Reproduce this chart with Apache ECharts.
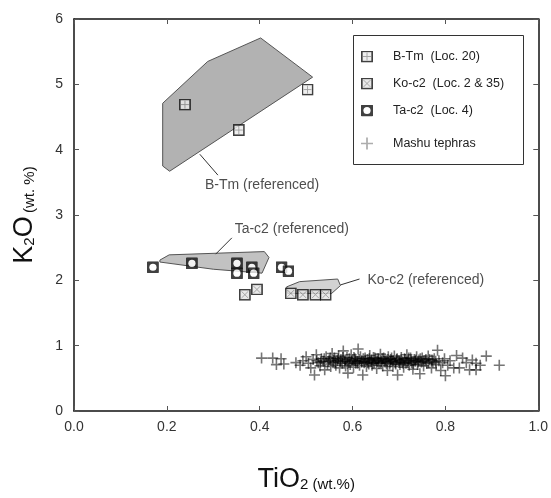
<!DOCTYPE html>
<html><head><meta charset="utf-8">
<script src="https://cdn.jsdelivr.net/npm/echarts@6/dist/echarts.min.js"></script>
<style>html,body{margin:0;padding:0;background:#fff}#c{width:551px;height:498px}</style>
</head><body><div id="c"></div>
<script>
// ---- data ----
var xTicks = [0, 0.2, 0.4, 0.6, 0.8, 1.0];
var yTicks = [0, 1, 2, 3, 4, 5, 6];
var bTm = [[0.239,4.69],[0.355,4.30],[0.503,4.92]];
var koC2 = [[0.368,1.78],[0.394,1.86],[0.467,1.80],[0.493,1.78],[0.520,1.78],[0.542,1.78]];
var taC2 = [[0.170,2.20],[0.254,2.26],[0.351,2.26],[0.351,2.11],[0.383,2.20],[0.387,2.11],[0.447,2.20],[0.462,2.14]];
var mashu = [
[0.404,0.81],[0.428,0.81],[0.446,0.80],[0.436,0.71],[0.452,0.72],[0.478,0.74],[0.487,0.70],[0.493,0.77],[0.50,0.83],[0.505,0.73],
[0.51,0.66],[0.515,0.79],[0.518,0.55],[0.522,0.86],[0.526,0.74],[0.53,0.69],[0.533,0.80],[0.537,0.76],[0.54,0.63],[0.543,0.83],
[0.546,0.72],[0.55,0.78],[0.553,0.68],[0.556,0.88],[0.558,0.74],[0.561,0.81],[0.564,0.70],[0.567,0.77],[0.57,0.84],[0.572,0.66],
[0.575,0.79],[0.578,0.73],[0.58,0.92],[0.583,0.76],[0.585,0.69],[0.588,0.82],[0.59,0.58],[0.592,0.75],[0.595,0.71],[0.597,0.86],
[0.60,0.78],[0.602,0.67],[0.605,0.80],[0.607,0.73],[0.61,0.76],[0.612,0.95],[0.615,0.70],[0.617,0.83],[0.62,0.77],[0.622,0.55],
[0.625,0.74],[0.627,0.81],[0.63,0.68],[0.632,0.79],[0.635,0.72],[0.637,0.85],[0.64,0.76],[0.642,0.70],[0.645,0.82],[0.647,0.74],
[0.65,0.78],[0.652,0.65],[0.655,0.80],[0.657,0.73],[0.66,0.87],[0.662,0.76],[0.665,0.69],[0.667,0.81],[0.67,0.75],[0.672,0.78],
[0.675,0.62],[0.677,0.83],[0.68,0.72],[0.682,0.79],[0.685,0.76],[0.687,0.68],[0.69,0.84],[0.692,0.74],[0.695,0.79],[0.697,0.55],
[0.70,0.77],[0.702,0.71],[0.705,0.82],[0.707,0.75],[0.71,0.67],[0.712,0.80],[0.715,0.73],[0.717,0.86],[0.72,0.77],[0.722,0.70],
[0.725,0.81],[0.727,0.74],[0.73,0.64],[0.733,0.79],[0.735,0.76],[0.738,0.83],[0.74,0.71],[0.743,0.78],[0.745,0.57],[0.748,0.75],
[0.75,0.81],[0.753,0.69],[0.756,0.77],[0.76,0.73],[0.763,0.84],[0.766,0.79],[0.77,0.66],[0.773,0.75],[0.776,0.80],[0.78,0.71],
[0.783,0.93],[0.786,0.77],[0.79,0.62],[0.794,0.74],[0.798,0.80],[0.80,0.54],[0.805,0.70],[0.81,0.77],[0.818,0.66],[0.824,0.85],
[0.83,0.66],[0.837,0.81],[0.845,0.74],[0.852,0.63],[0.858,0.78],[0.866,0.63],[0.866,0.73],[0.875,0.70],[0.888,0.84],[0.916,0.70],
[0.523,0.77],[0.531,0.75],[0.539,0.80],[0.548,0.76],[0.552,0.81],[0.559,0.78],[0.563,0.75],[0.569,0.80],[0.574,0.76],[0.579,0.82],
[0.584,0.78],[0.589,0.73],[0.593,0.80],[0.598,0.76],[0.603,0.82],[0.606,0.77],[0.611,0.73],[0.614,0.79],[0.619,0.75],[0.623,0.80],
[0.628,0.76],[0.633,0.74],[0.636,0.80],[0.641,0.78],[0.644,0.73],[0.648,0.81],[0.653,0.76],[0.656,0.78],[0.661,0.74],[0.664,0.80],
[0.668,0.77],[0.673,0.73],[0.676,0.79],[0.681,0.75],[0.684,0.81],[0.688,0.77],[0.693,0.72],[0.696,0.80],[0.701,0.75],[0.704,0.78],
[0.709,0.73],[0.713,0.79],[0.718,0.75],[0.721,0.81],[0.726,0.77],[0.731,0.72],[0.736,0.78],[0.741,0.75],[0.746,0.80],[0.752,0.76],
[0.758,0.79],[0.764,0.74],[0.771,0.78],[0.779,0.76]
];
var bTmField = [[0.191,4.71],[0.288,5.35],[0.402,5.71],[0.514,5.11],[0.206,3.67],[0.191,3.75]];
var taC2Field = [[0.185,2.31],[0.205,2.39],[0.41,2.44],[0.42,2.35],[0.405,2.11],[0.30,2.17],[0.185,2.28]];
var koC2Field = [[0.458,1.90],[0.486,1.98],[0.568,2.02],[0.574,1.92],[0.555,1.80],[0.46,1.80]];
var leaders = [
  [[0.271,3.93],[0.310,3.61]],
  [[0.305,2.40],[0.340,2.65]],
  [[0.574,1.93],[0.615,2.02]]
];
var fieldLabels = [[0.282,3.46,'B-Tm (referenced)'],[0.346,2.79,'Ta-c2 (referenced)'],[0.632,2.01,'Ko-c2 (referenced)']];
var names = ['B-Tm  (Loc. 20)','Ko-c2  (Loc. 2 & 35)','Ta-c2  (Loc. 4)','Mashu tephras'];

// ---- markers ----
function svgSym(s){return 'image://data:image/svg+xml;charset=utf-8,'+encodeURIComponent("<svg xmlns='http://www.w3.org/2000/svg' width='24' height='24' viewBox='0 0 12 12'>"+s+"</svg>");}
var symB = svgSym("<rect x='0.8' y='0.8' width='10.4' height='10.4' fill='#ececec' stroke='#111' stroke-width='1.7'/><path d='M6 2V10M2 6H10' stroke='#888' stroke-width='0.9'/>");
var symK = svgSym("<rect x='0.8' y='0.8' width='10.4' height='10.4' fill='#e4e4e4' stroke='#111' stroke-width='1.7'/><path d='M2.6 2.6L9.4 9.4M9.4 2.6L2.6 9.4' stroke='#888' stroke-width='0.9'/>");
var symT = svgSym("<rect x='0' y='0' width='12' height='12' rx='1.2' fill='#111'/><circle cx='6' cy='6' r='3.6' fill='#fff'/>");
var plus = 'path://M4.7,0H6.3V11H4.7Z M0,4.7H11V6.3H0Z';

function polySeries(pts, fill){
  return {type:'custom', silent:true, z:1, data:[[0]],
    renderItem:function(params, api){
      var p = pts.map(function(v){return api.coord(v);});
      return {type:'polygon', shape:{points:p}, style:{fill:fill, stroke:'#555', lineWidth:1}};
    }};
}

var FONT = 'Liberation Sans, Arial, sans-serif';
var series = [
  polySeries(bTmField, '#b2b2b2'), polySeries(taC2Field, '#c2c2c2'), polySeries(koC2Field, '#d2d2d2')
];
leaders.forEach(function(l){
  series.push({type:'line', data:l, symbol:'none', silent:true, z:2, lineStyle:{color:'#333', width:1}});
});
series.push({type:'scatter', data:fieldLabels, symbolSize:0, silent:true, z:3,
  label:{show:true, position:'right', distance:0, formatter:function(p){return p.data[2];}, color:'#222', fontSize:14, fontFamily:FONT}});
series.push({name:names[3], type:'scatter', data:mashu, symbol:plus, symbolSize:11, z:4, itemStyle:{color:'rgba(0,0,0,0.68)'}});
series.push({name:names[0], type:'scatter', data:bTm, symbol:symB, symbolSize:12, z:5});
series.push({name:names[1], type:'scatter', data:koC2, symbol:symK, symbolSize:12, z:5});
series.push({name:names[2], type:'scatter', data:taC2, symbol:symT, symbolSize:12, z:6});

var axisCommon = {
  axisLine:{show:true, onZero:false, lineStyle:{color:'#111', width:1.5}},
  axisTick:{show:true, inside:true, length:5, lineStyle:{color:'#555', width:1}},
  splitLine:{show:false}
};
var richName = {a:{fontSize:27, fontFamily:FONT, color:'#111', verticalAlign:'bottom'}, b:{fontSize:15, fontFamily:FONT, color:'#111', verticalAlign:'bottom', padding:[0,0,1,0]}};
var option = {
  animation:false,
  backgroundColor:'#fff',
  grid:{left:74, right:12, top:19, bottom:79},
  xAxis:[
    Object.assign({type:'value', min:0, max:1, interval:0.2, position:'bottom',
      axisLabel:{formatter:function(v){return v.toFixed(1);}, color:'#333', fontSize:14, fontFamily:FONT, margin:9},
      name:'{a|TiO}{b|2 (wt.%)}', nameLocation:'middle', nameGap:55, nameTextStyle:{rich:richName}
    }, axisCommon),
    Object.assign({type:'value', min:0, max:1, interval:0.2, position:'top', axisLabel:{show:false}}, axisCommon)
  ],
  yAxis:[
    Object.assign({type:'value', min:0, max:6, interval:1, position:'left',
      axisLabel:{color:'#333', fontSize:14, fontFamily:FONT, margin:11},
      name:'{a|K}{b|2}{a|O} {b|(wt. %)}', nameLocation:'middle', nameGap:36, nameTextStyle:{rich:richName}
    }, axisCommon),
    Object.assign({type:'value', min:0, max:6, interval:1, position:'right', axisLabel:{show:false}}, axisCommon)
  ],
  graphic:[{type:'rect', left:353, top:35, shape:{width:170, height:129}, style:{fill:'#fff', stroke:'#333', lineWidth:1}, z:0}],
  legend:[
    {data:names.slice(0,3), orient:'vertical', left:356, top:45, itemWidth:12, itemHeight:12, itemGap:14, selectedMode:false,
     textStyle:{fontSize:12.5, fontFamily:FONT, color:'#222', padding:[0,0,0,15]}},
    {data:[{name:names[3], itemStyle:{color:'#999'}}], orient:'vertical', left:356, top:132, itemWidth:12, itemHeight:12, selectedMode:false,
     textStyle:{fontSize:12.5, fontFamily:FONT, color:'#222', padding:[0,0,0,15]}}
  ],
  series:series
};
var chart = echarts.init(document.getElementById('c'), null, {renderer:'canvas'});
chart.setOption(option);
</script>
</body></html>
